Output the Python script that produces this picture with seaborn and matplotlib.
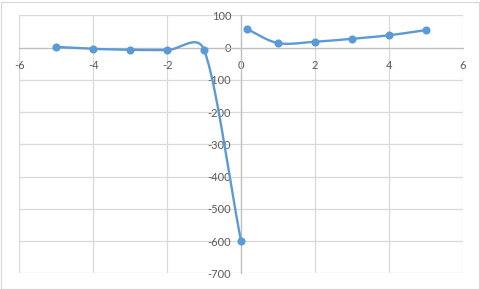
import numpy as np
import pandas as pd
import matplotlib
matplotlib.use("Agg")
import matplotlib.pyplot as plt
import seaborn as sns
from matplotlib.patches import Rectangle

# ---- data ----
x_left = [-5, -4, -3, -2, -1, 0]
y_left = [2, -4, -7, -8, -7, -600]
x_right = [0.15, 1, 2, 3, 4, 5]
y_right = [58, 14, 18, 27, 38, 54]
x_ticks = [-6, -4, -2, 0, 2, 4, 6]
y_ticks = [100, 0, -100, -200, -300, -400, -500, -600, -700]

LINE = "#5b9bd5"
GRID = "#d9d9d9"
AXIS = "#bfbfbf"
TEXT = "#595959"

sns.set_style("white")
plt.rcParams["font.family"] = ["Lato", "DejaVu Sans"]

fig = plt.figure(figsize=(4.8, 2.89), dpi=100)
ax = fig.add_axes([19.3 / 480, 1 - 273.3 / 289, (462.7 - 19.3) / 480, (273.3 - 15.3) / 289])
ax.set_xlim(-6, 6)
ax.set_ylim(-700, 100)


def excel_smooth(xs, ys, n=60):
    """Excel-like smoothed line (Bezier, tension 1/6, arms capped) in display space."""
    pts = ax.transData.transform(np.column_stack([xs, ys]))
    m = len(pts)
    out = [pts[0]]
    for i in range(m - 1):
        p1, p2 = pts[i], pts[i + 1]
        p0 = pts[i - 1] if i > 0 else p1
        p3 = pts[i + 2] if i + 2 < m else p2
        d12 = np.linalg.norm(p2 - p1)
        d02 = np.linalg.norm(p2 - p0)
        d13 = np.linalg.norm(p3 - p1)
        f0 = 1 / 6 if i > 0 else 1 / 3
        f1 = 1 / 6 if i + 2 < m else 1 / 3
        if d02 * f0 > d12 / 2:
            f0 = d12 / 2 / d02
        if d13 * f1 > d12 / 2:
            f1 = d12 / 2 / d13
        b1 = p1 + (p2 - p0) * f0
        b2 = p2 - (p3 - p1) * f1
        t = np.linspace(0, 1, n)[1:, None]
        seg = ((1 - t) ** 3) * p1 + 3 * ((1 - t) ** 2) * t * b1 + 3 * (1 - t) * t ** 2 * b2 + t ** 3 * p2
        out.extend(seg)
    out = np.array(out)
    return ax.transData.inverted().transform(out)


for xs, ys in [(x_left, y_left), (x_right, y_right)]:
    curve = excel_smooth(xs, ys)
    dfc = pd.DataFrame({"x": curve[:, 0], "y": curve[:, 1]})
    sns.lineplot(data=dfc, x="x", y="y", sort=False, estimator=None, ax=ax,
                 color=LINE, linewidth=1.7, zorder=3)
    dfp = pd.DataFrame({"x": xs, "y": ys})
    sns.scatterplot(data=dfp, x="x", y="y", ax=ax, color=LINE, s=34,
                    edgecolor=LINE, linewidth=0, zorder=4)

ax.set_xlim(-6, 6)
ax.set_ylim(-700, 100)
ax.set_xticks(x_ticks)
ax.set_yticks(y_ticks)
ax.set_xticklabels([str(v) for v in x_ticks])
ax.set_yticklabels([str(v) for v in y_ticks])
ax.set_xlabel("")
ax.set_ylabel("")

ax.grid(True, color=GRID, linewidth=0.9, zorder=0)
ax.set_axisbelow(True)
for s in ["top", "right"]:
    ax.spines[s].set_visible(False)
ax.spines["left"].set_position(("data", 0))
ax.spines["bottom"].set_position(("data", 0))
for s in ["left", "bottom"]:
    ax.spines[s].set_color(AXIS)
    ax.spines[s].set_linewidth(0.9)
    ax.spines[s].set_zorder(1)

ax.tick_params(axis="x", length=0, pad=9, labelsize=8, labelcolor=TEXT)
ax.tick_params(axis="y", length=0, pad=7, labelsize=8, labelcolor=TEXT)

fig.add_artist(Rectangle((0.5 / 480, 0.5 / 289), 478.5 / 480, 287 / 289,
                         transform=fig.transFigure, fill=False,
                         edgecolor=GRID, linewidth=0.9))

fig.savefig("out.png", dpi=100)
